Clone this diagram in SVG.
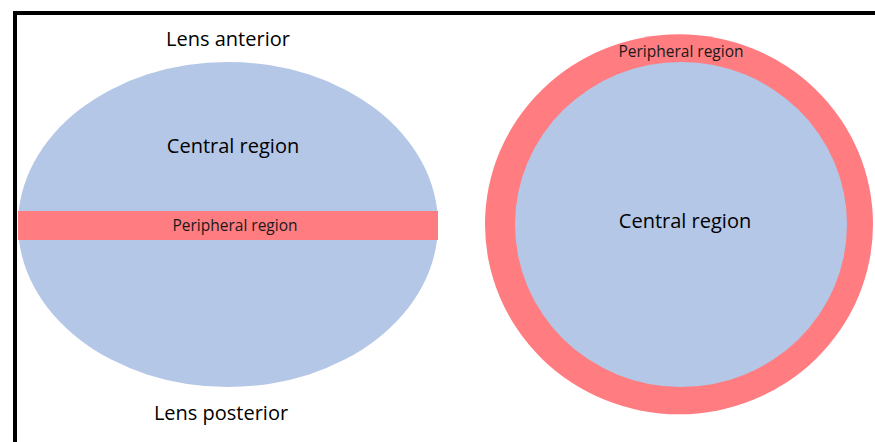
<svg xmlns="http://www.w3.org/2000/svg" width="875" height="442" viewBox="0 0 875 442">
  <style>
    .blue { fill: #B4C7E7; }
    .red { fill: #FF7C80; }
    .lbl { font-family: "Open Sans", "Liberation Sans", sans-serif; fill: #000; text-anchor: middle; }
    .big { font-size: 20px; }
    .small { font-size: 15.5px; fill: #1a1a1a; }
  </style>
  <rect x="0" y="0" width="875" height="442" fill="#fff"/>
  <path d="M15,442 V13 H875" fill="none" stroke="#000" stroke-width="4"/>

  <g id="lens-side">
    <ellipse class="blue" cx="228" cy="224.5" rx="210" ry="162.5"/>
    <rect class="red" x="18" y="211" width="420" height="29"/>
    <text class="lbl big" x="233" y="153">Central region</text>
    <text class="lbl small" x="235" y="231">Peripheral region</text>
  </g>

  <g id="lens-front">
    <ellipse class="red" cx="679" cy="224.3" rx="194" ry="190"/>
    <ellipse class="blue" cx="681" cy="224.5" rx="166" ry="162.5"/>
    <text class="lbl small" x="681" y="57">Peripheral region</text>
    <text class="lbl big" x="685" y="228">Central region</text>
  </g>

  <g id="label-anterior">
    <text class="lbl big" x="228" y="46">Lens anterior</text>
  </g>
  <g id="label-posterior">
    <text class="lbl big" x="221" y="420">Lens posterior</text>
  </g>
  <g id="connectors"></g>
</svg>
